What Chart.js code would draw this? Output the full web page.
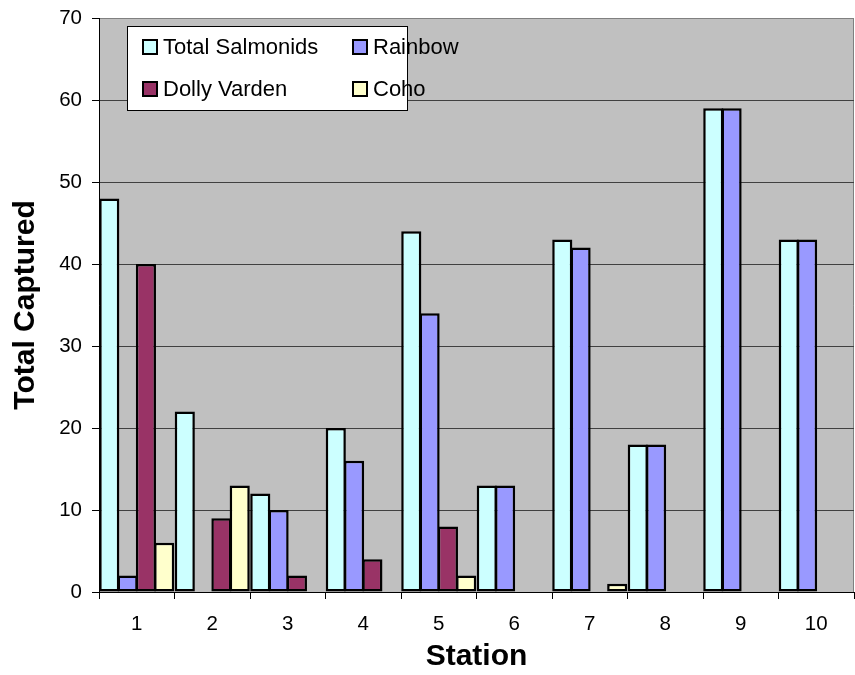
<!DOCTYPE html>
<html>
<head>
<meta charset="utf-8">
<script src="https://cdn.jsdelivr.net/npm/chart.js@4/dist/chart.umd.min.js"></script>
<style>
  html, body { margin: 0; padding: 0; background: #ffffff; }
  #wrap { width: 855px; height: 675px; }
</style>
</head>
<body>
<div id="wrap"><canvas id="c" width="855" height="675"></canvas></div>
<script>
// Fish captured per sampling station
const stations = ['1', '2', '3', '4', '5', '6', '7', '8', '9', '10'];
const totalSalmonids = [48, 22, 12, 20, 44, 13, 43, 18, 59, 43];
const rainbow        = [2, 0, 10, 16, 34, 13, 42, 18, 59, 43];
const dollyVarden    = [40, 9, 2, 4, 8, 0, 0, 0, 0, 0];
const coho           = [6, 13, 0, 0, 2, 0, 1, 0, 0, 0];

const seriesNames  = ['Total Salmonids', 'Rainbow', 'Dolly Varden', 'Coho'];
const seriesColors = ['#CCFFFF', '#9999FF', '#993366', '#FFFFCC'];
const seriesValues = [totalSalmonids, rainbow, dollyVarden, coho];

const yMin = 0, yMax = 70, yStep = 10;

const FONT = "'Liberation Sans', Arial, Helvetica, sans-serif";

// Gray plot background with a thin frame on top and right
const plotBackground = {
  id: 'plotBackground',
  beforeDraw(chart) {
    const { ctx, chartArea: a } = chart;
    ctx.save();
    ctx.fillStyle = '#C0C0C0';
    ctx.fillRect(a.left, a.top, a.right - a.left, a.bottom - a.top);
    ctx.strokeStyle = '#808080';
    ctx.lineWidth = 1;
    ctx.beginPath();
    ctx.moveTo(a.left, a.top + 0.5);
    ctx.lineTo(a.right - 0.5, a.top + 0.5);
    ctx.lineTo(a.right - 0.5, a.bottom);
    ctx.stroke();
    ctx.restore();
  }
};

// Boxed two-column legend drawn inside the plot area
const boxedLegend = {
  id: 'boxedLegend',
  afterDatasetsDraw(chart) {
    const { ctx, chartArea: a } = chart;
    const bx = a.left + 28, by = a.top + 8, bw = 280, bh = 84;
    ctx.save();
    ctx.fillStyle = '#ffffff';
    ctx.fillRect(bx, by, bw, bh);
    ctx.strokeStyle = '#000000';
    ctx.lineWidth = 1;
    ctx.strokeRect(bx + 0.5, by + 0.5, bw, bh);
    ctx.font = '22px ' + FONT;
    ctx.textBaseline = 'middle';
    ctx.textAlign = 'left';
    chart.data.datasets.forEach((ds, i) => {
      const col = i % 2, row = Math.floor(i / 2);
      const sx = bx + 15 + col * 210;
      const cy = by + 21 + row * 42;
      ctx.fillStyle = '#000000';
      ctx.fillRect(sx, cy - 8, 16, 16);
      ctx.fillStyle = ds.backgroundColor;
      ctx.fillRect(sx + 2, cy - 6, 12, 12);
      ctx.fillStyle = '#000000';
      ctx.fillText(ds.label, sx + 21, cy + 1);
    });
    ctx.restore();
  }
};

new Chart(document.getElementById('c'), {
  type: 'bar',
  data: {
    labels: stations,
    datasets: seriesNames.map((name, i) => ({
      label: name,
      data: seriesValues[i],
      backgroundColor: seriesColors[i],
      borderColor: '#000000',
      borderWidth: 2.5,
      borderSkipped: false,
      categoryPercentage: 0.97,
      barPercentage: 1.1
    }))
  },
  options: {
    responsive: false,
    animation: false,
    devicePixelRatio: 1,
    layout: { padding: { top: 18, right: 1, left: 0, bottom: 0 } },
    plugins: {
      legend: { display: false },
      tooltip: { enabled: false }
    },
    scales: {
      x: {
        grid: {
          display: true,
          drawOnChartArea: false,
          offset: true,
          tickLength: 7,
          tickColor: '#000000'
        },
        border: { display: true, color: '#000000', width: 1 },
        ticks: {
          color: '#000000',
          font: { family: FONT, size: 20.5 },
          padding: 13,
          maxRotation: 0
        },
        title: {
          display: true,
          text: 'Station',
          color: '#000000',
          font: { family: FONT, size: 30, weight: 'bold' },
          padding: { top: 0, bottom: 0 }
        },
        afterFit(scale) {
          scale.height = 83;
          scale.paddingLeft = 0;
          scale.paddingRight = 0;
        }
      },
      y: {
        min: yMin,
        max: yMax,
        grid: {
          color: (c) => (c.tick && c.tick.value === yMax ? '#808080' : '#404040'),
          lineWidth: 1,
          tickLength: 7,
          tickColor: '#000000'
        },
        border: { display: true, color: '#000000', width: 1 },
        ticks: {
          stepSize: yStep,
          color: '#000000',
          font: { family: FONT, size: 20.5 },
          padding: 10
        },
        title: {
          display: true,
          text: 'Total Captured',
          color: '#000000',
          font: { family: FONT, size: 30, weight: 'bold' },
          padding: { top: 8, bottom: 0 }
        },
        afterFit(scale) {
          scale.width = 99;
          scale.paddingTop = 0;
          scale.paddingBottom = 0;
        }
      }
    }
  },
  plugins: [plotBackground, boxedLegend]
});
</script>
</body>
</html>
